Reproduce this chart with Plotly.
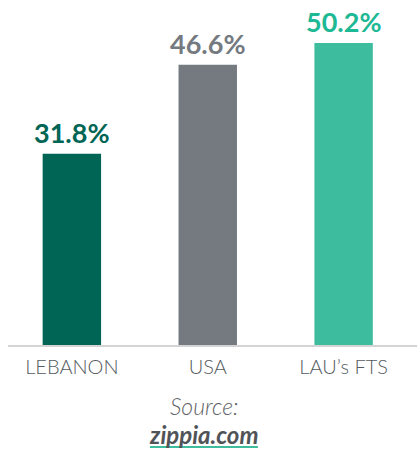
import plotly.graph_objects as go

categories = ["LEBANON", "USA", "LAU’s FTS"]
values = [31.8, 46.6, 50.2]
bar_colors = ["#006554", "#747a80", "#3dbd9d"]
label_colors = ["#006554", "#747a80", "#1db894"]
value_labels = [f"{v:.1f}%" for v in values]

fig = go.Figure()
fig.add_trace(go.Bar(
    x=categories,
    y=values,
    marker=dict(color=bar_colors, line=dict(width=0)),
    width=0.43,
    hoverinfo="skip",
))

annotations = []
for cat, val, lab, col in zip(categories, values, value_labels, label_colors):
    annotations.append(dict(
        x=cat, y=val, xref="x", yref="y", text=f"<b>{lab}</b>",
        showarrow=False, xanchor="center", yanchor="bottom", yshift=4,
        borderpad=0,
        font=dict(family="Lato", size=27, color=col),
    ))

annotations += [
    dict(text="<i>Source:</i>", x=0.479, y=-0.188, xref="paper", yref="paper",
         showarrow=False, font=dict(family="Lato", size=23, color="#5f6368", weight=300),
         xanchor="center", yanchor="middle"),
    dict(text="<b><i>zippia.com</i></b>", x=0.479, y=-0.274, xref="paper", yref="paper",
         showarrow=False, font=dict(family="Lato", size=24, color="#505458"),
         xanchor="center", yanchor="middle"),
]

fig.update_layout(
    width=417, height=450,
    margin=dict(l=8, r=0, t=20, b=105),
    paper_bgcolor="white",
    plot_bgcolor="white",
    showlegend=False,
    xaxis=dict(
        range=[-0.47, 2.54],
        showline=True, linecolor="#d4d4d4", linewidth=2,
        ticks="", showgrid=False, ticklabelstandoff=3,
        tickfont=dict(family="Lato", size=20, color="#555b60", weight=300),
    ),
    yaxis=dict(range=[0, 54.02], visible=False, showgrid=False),
    annotations=annotations,
    shapes=[
        dict(type="line", xref="paper", yref="paper", x0=0.347, x1=0.611,
             y0=-0.314, y1=-0.314, line=dict(color="#3dbd9d", width=2)),
    ],
)

fig.write_html(
    "out.html",
    config={"displayModeBar": False},
    post_script="document.body.style.margin='0';document.body.style.overflow='hidden';",
)
